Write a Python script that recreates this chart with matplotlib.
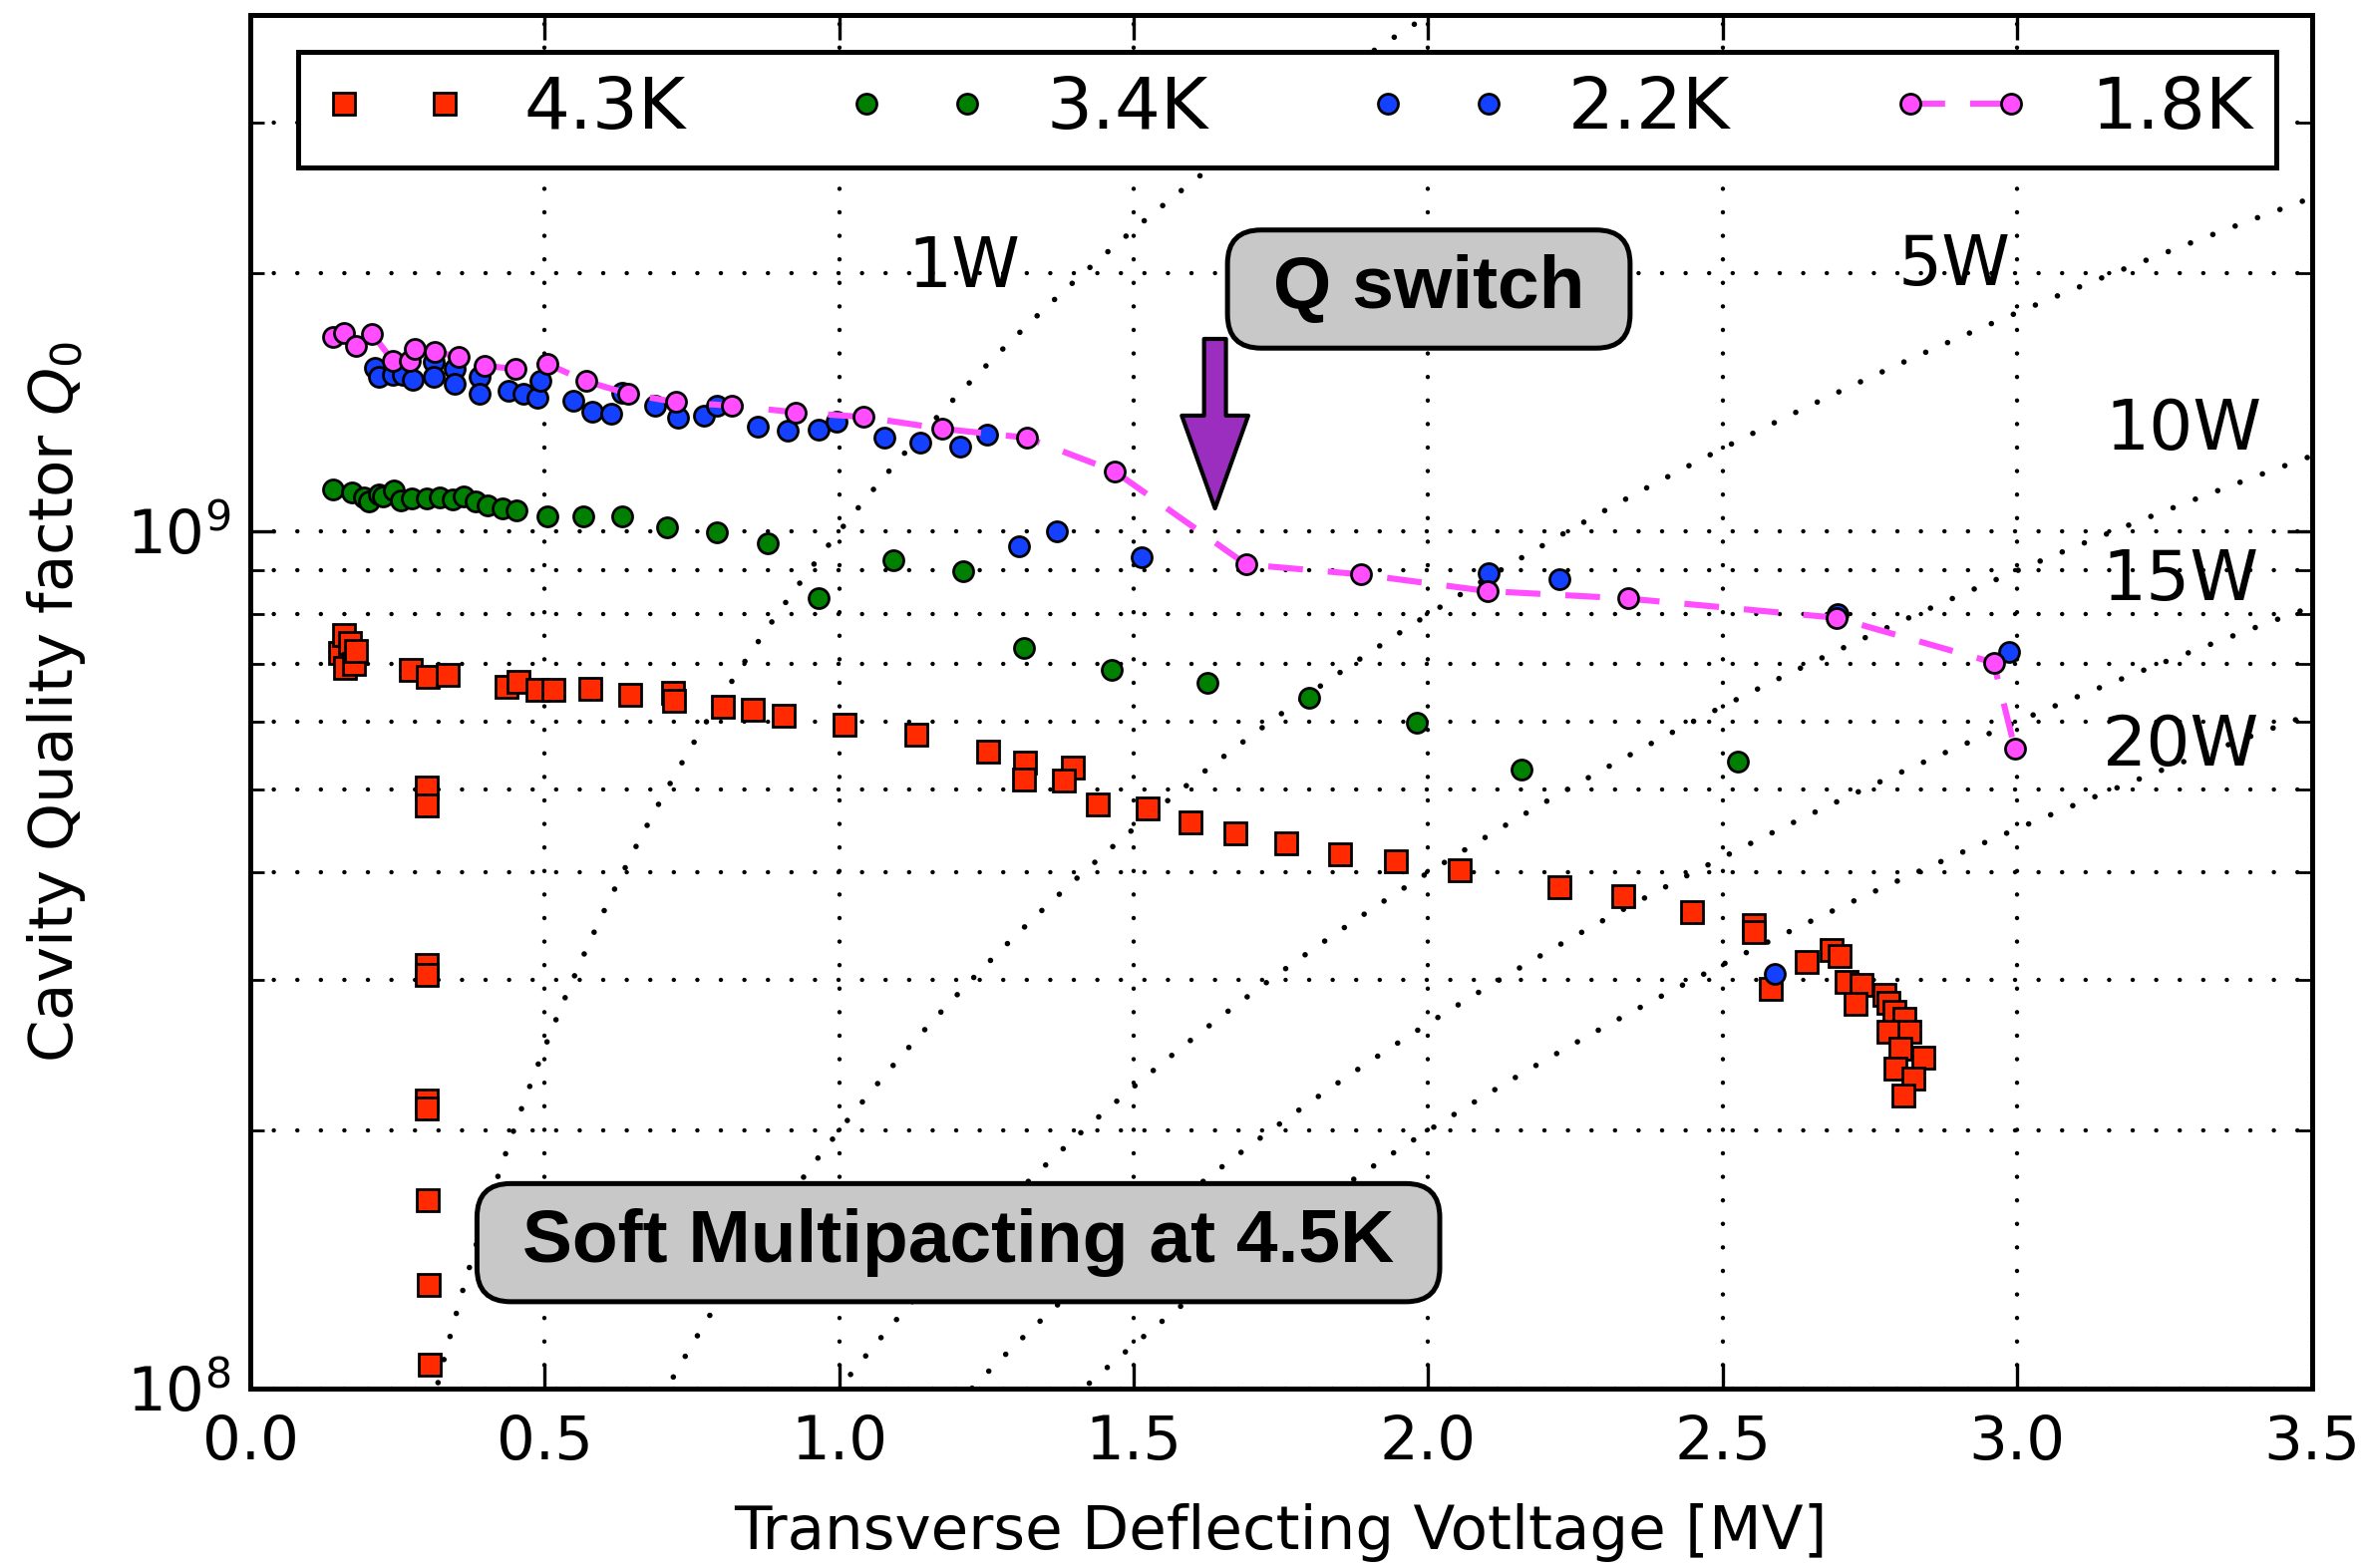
import numpy as np
import matplotlib
matplotlib.use('Agg')
import matplotlib.pyplot as plt
from matplotlib.ticker import NullFormatter, LogLocator

# --- measured points (x in MV, Q0 in units of 1e9) ---
# 4.3K
v_43 = [0.152, 0.159, 0.161, 0.169, 0.176, 0.179, 0.273, 0.302, 0.336,
        0.300, 0.300, 0.300, 0.300, 0.300, 0.300, 0.302, 0.303, 0.305,
        0.435, 0.456, 0.487, 0.514, 0.577, 0.645, 0.718, 0.720, 0.803, 0.854,
        0.905, 1.009, 1.130, 1.253, 1.316, 1.313, 1.396, 1.381, 1.439, 1.524,
        1.596, 1.672, 1.759, 1.850, 1.945, 2.053, 2.223, 2.331, 2.447, 2.553,
        2.553, 2.582, 2.642, 2.685, 2.699, 2.710, 2.735, 2.725, 2.774, 2.782,
        2.792, 2.808, 2.782, 2.816, 2.801, 2.841, 2.793, 2.824, 2.807]
q_43 = [0.722, 0.757, 0.694, 0.742, 0.700, 0.725, 0.690, 0.677, 0.681,
        0.503, 0.479, 0.312, 0.304, 0.217, 0.212, 0.166, 0.132, 0.1066,
        0.659, 0.668, 0.653, 0.653, 0.655, 0.644, 0.649, 0.635, 0.624, 0.619,
        0.610, 0.595, 0.580, 0.553, 0.538, 0.513, 0.531, 0.512, 0.480, 0.475,
        0.458, 0.445, 0.433, 0.420, 0.412, 0.402, 0.385, 0.375, 0.360, 0.347,
        0.341, 0.293, 0.315, 0.325, 0.320, 0.298, 0.296, 0.281, 0.288, 0.282,
        0.275, 0.270, 0.261, 0.261, 0.249, 0.243, 0.236, 0.230, 0.220]

# 3.4K
v_34 = [0.140, 0.172, 0.193, 0.202, 0.218, 0.226, 0.244, 0.256, 0.274, 0.300,
        0.321, 0.343, 0.363, 0.382, 0.403, 0.429, 0.452, 0.504, 0.566, 0.632,
        0.708, 0.792, 0.878, 0.965, 1.092, 1.211, 1.314, 1.463, 1.625, 1.797,
        1.981, 2.159, 2.525]
q_34 = [1.119, 1.110, 1.095, 1.085, 1.104, 1.099, 1.117, 1.088, 1.092, 1.092,
        1.095, 1.090, 1.098, 1.083, 1.073, 1.063, 1.059, 1.042, 1.042, 1.042,
        1.010, 0.998, 0.970, 0.837, 0.925, 0.899, 0.732, 0.690, 0.665, 0.640,
        0.598, 0.528, 0.539]

# 2.2K
v_22 = [0.211, 0.219, 0.242, 0.259, 0.276, 0.311, 0.311, 0.347, 0.347, 0.390,
        0.390, 0.438, 0.464, 0.487, 0.492, 0.548, 0.580, 0.613, 0.632, 0.688,
        0.727, 0.770, 0.792, 0.861, 0.913, 0.965, 0.995, 1.077, 1.137, 1.206,
        1.251, 1.306, 1.370, 1.513, 2.102, 2.223, 2.589, 2.695, 2.986]
q_22 = [1.551, 1.514, 1.523, 1.523, 1.503, 1.575, 1.517, 1.547, 1.486, 1.517,
        1.447, 1.460, 1.447, 1.432, 1.497, 1.419, 1.379, 1.372, 1.451, 1.400,
        1.359, 1.363, 1.400, 1.326, 1.312, 1.314, 1.344, 1.286, 1.269, 1.255,
        1.297, 0.961, 1.000, 0.932, 0.894, 0.880, 0.305, 0.800, 0.723]

# 1.8K
v_18 = [0.140, 0.159, 0.179, 0.207, 0.242, 0.271, 0.280, 0.314, 0.353, 0.397,
        0.451, 0.504, 0.570, 0.641, 0.723, 0.818, 0.926, 1.041, 1.174, 1.319,
        1.467, 1.691, 1.886, 2.100, 2.339, 2.693, 2.960, 2.996]
q_18 = [1.686, 1.704, 1.644, 1.700, 1.582, 1.580, 1.634, 1.622, 1.598, 1.561,
        1.547, 1.569, 1.497, 1.448, 1.415, 1.402, 1.377, 1.360, 1.318, 1.286,
        1.176, 0.915, 0.891, 0.852, 0.835, 0.793, 0.703, 0.558]

# constant dissipated power curves: Q0 = V^2 / (R/Q * P)
r_over_q = 1000.0  # Ohm
powers = [1, 5, 10, 15, 20]
power_labels = ['1W', '5W', '10W', '15W', '20W']
label_pos = [(0.346, 0.816), (0.8267, 0.8174), (0.9376, 0.6979),
             (0.9364, 0.5887), (0.9364, 0.4682)]

fig = plt.figure(figsize=(11.85, 7.865), dpi=200)
ax = fig.add_axes([0.1059, 0.1144, 0.8724, 0.8758])

v = np.linspace(0.01, 3.5, 600)
for p in powers:
    ax.plot(v, (v * 1e6)**2 / (r_over_q * p), color='k', lw=2.0,
            linestyle=(0, (0.01, 4.3)), dash_capstyle='round', zorder=1)

e = 1e9
ax.plot(v_43, np.array(q_43) * e, 's', color='#ff2a00', mec='k', mew=1.0,
        ms=7.8, label='4.3K', zorder=3)
ax.plot(v_34, np.array(q_34) * e, 'o', color='#008000', mec='k', mew=1.0,
        ms=7.2, label='3.4K', zorder=3)
ax.plot(v_22, np.array(q_22) * e, 'o', color='#1440ff', mec='k', mew=1.0,
        ms=7.2, label='2.2K', zorder=3)
ax.plot(v_18, np.array(q_18) * e, 'o', color='#ff4dff', mec='k', mew=1.0,
        ms=7.2, ls=(0, (5.7, 4.1)), lw=2.2, label='1.8K', zorder=4)

ax.set_yscale('log')
ax.set_xlim(0, 3.5)
ax.set_ylim(1e8, 4e9)
ax.set_xticks(np.arange(0, 3.51, 0.5))
ax.yaxis.set_minor_locator(LogLocator(base=10, subs=np.arange(2, 10)))
ax.yaxis.set_minor_formatter(NullFormatter())

ax.grid(True, which='both', color='k', lw=1.6, linestyle=(0, (0.01, 5.3)),
        dash_capstyle='round', zorder=0)
ax.tick_params(which='both', direction='in', top=True, right=True,
               labelsize=22)
ax.tick_params(axis='x', pad=9)
ax.tick_params(axis='y', pad=7)
ax.tick_params(which='major', length=9, width=1.2)
ax.tick_params(which='minor', length=5, width=1.0)
for s in ax.spines.values():
    s.set_linewidth(1.8)

ax.set_xlabel('Transverse Deflecting Votltage [MV]', fontsize=22, labelpad=11)
ax.set_ylabel('Cavity Quality factor $Q_0$', fontsize=22, labelpad=14)

for txt, (tx, ty) in zip(power_labels, label_pos):
    ax.text(tx, ty, txt, transform=ax.transAxes, ha='center', va='center',
            fontsize=25, zorder=2)

leg = ax.legend(loc='upper left', bbox_to_anchor=(0.0234, 0.5, 0.9593, 0.4737),
                mode='expand', ncol=4, numpoints=2, fontsize=26, borderpad=0.33,
                borderaxespad=0, fancybox=False, framealpha=1, edgecolor='k')
leg.get_frame().set_linewidth(1.8)

box = dict(boxstyle='round,pad=0.33,rounding_size=0.45', fc='#c8c8c8',
           ec='k', lw=1.8)
ax.text(0.5717, 0.8007, ' Q switch ', transform=ax.transAxes, ha='center',
        va='center', fontsize=27, fontweight='bold', family='Liberation Sans',
        bbox=box, zorder=6)
ax.text(0.3435, 0.1063, ' Soft Multipacting at 4.5K ', transform=ax.transAxes,
        ha='center', va='center', fontsize=27, fontweight='bold',
        family='Liberation Sans', bbox=box, zorder=6)

ax.annotate('', xy=(0.468, 0.641), xytext=(0.468, 0.7644),
            xycoords='axes fraction', textcoords='axes fraction',
            arrowprops=dict(arrowstyle='simple,head_length=3.35,head_width=2.4,tail_width=0.79',
                            mutation_scale=10, fc='#9b2dbf', ec='k', lw=1.5,
                            shrinkA=0, shrinkB=0), zorder=6)

fig.savefig('out.png', dpi=200)
